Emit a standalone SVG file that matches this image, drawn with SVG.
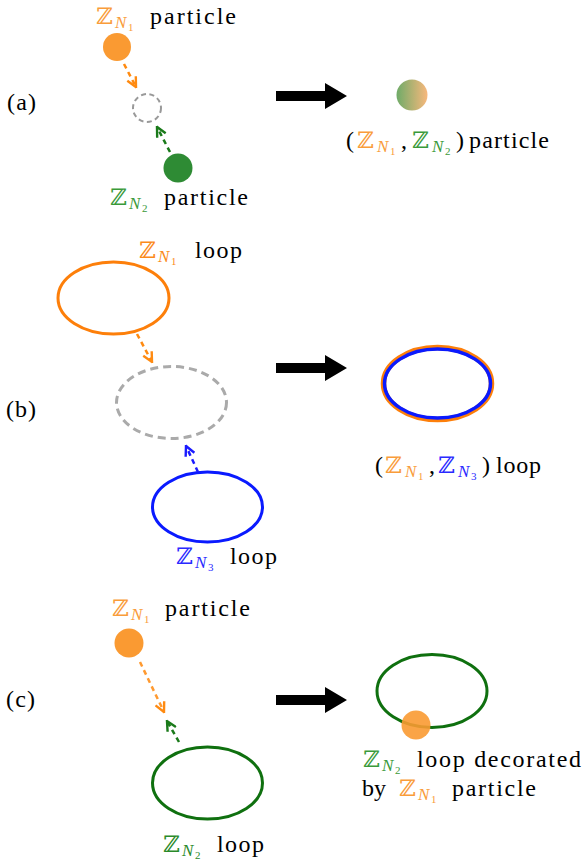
<svg xmlns="http://www.w3.org/2000/svg" width="582" height="863" viewBox="0 0 582 863">
<style>
.t{font-size:24px;fill:#000}
.z{font-size:23px}
.n{font-style:italic;font-size:17px}
.d{font-size:11px}
.or{fill:#f99c3a}
.gr{fill:#3a9a3a}
.bl{fill:#2a2aff}
.dash{fill:none;stroke-width:2.5;stroke-dasharray:5 4}
.big{fill:#000}
</style>
<defs>
<marker id="hO" viewBox="0 0 10 10" refX="9" refY="5" markerWidth="12" markerHeight="12" markerUnits="userSpaceOnUse" orient="auto"><path d="M1 1 L9 5 L1 9" fill="none" stroke="#ff8a10" stroke-width="2"/></marker>
<marker id="hG" viewBox="0 0 10 10" refX="9" refY="5" markerWidth="12" markerHeight="12" markerUnits="userSpaceOnUse" orient="auto"><path d="M1 1 L9 5 L1 9" fill="none" stroke="#1a7a1a" stroke-width="2"/></marker>
<marker id="hB" viewBox="0 0 10 10" refX="9" refY="5" markerWidth="12" markerHeight="12" markerUnits="userSpaceOnUse" orient="auto"><path d="M1 1 L9 5 L1 9" fill="none" stroke="#1a1aff" stroke-width="2"/></marker>
<linearGradient id="mix" x1="0" y1="0" x2="1" y2="0"><stop offset="0" stop-color="#6fab68"/><stop offset="1" stop-color="#f8b87c"/></linearGradient>
</defs>

<g font-family="Liberation Serif, DejaVu Serif, serif">
<g id="panel-labels">
<text class="t" x="7" y="110" textLength="29">(a)</text>
<text class="t" x="6" y="417" textLength="30">(b)</text>
<text class="t" x="6" y="707" textLength="29">(c)</text>
</g>

<!-- Panel (a) -->
<g id="a-particle1">
<circle cx="117" cy="47" r="14" fill="#fa9a32"/>
<text class="z or" x="96" y="24">ℤ</text><text class="n or" x="115" y="28">N</text><text class="d or" x="128" y="31">1</text>
<text class="t" x="150" y="24" textLength="86">particle</text>
</g>
<g id="a-target">
<circle cx="147" cy="108" r="14" fill="none" stroke="#999" stroke-width="2" stroke-dasharray="5 3.5"/>
</g>
<g id="a-particle2">
<circle cx="178" cy="168" r="14.5" fill="#2e8b34"/>
<text class="z gr" x="110" y="205">ℤ</text><text class="n gr" x="129" y="209">N</text><text class="d gr" x="142" y="212">2</text>
<text class="t" x="164" y="205" textLength="84">particle</text>
</g>
<g id="a-result">
<circle cx="412" cy="95" r="15.5" fill="url(#mix)"/>
<text class="t" x="346" y="148">(</text>
<text class="z or" x="357" y="148">ℤ</text><text class="n or" x="377" y="152">N</text><text class="d or" x="390" y="155">1</text>
<text class="t" x="401" y="148">,</text>
<text class="z gr" x="412" y="148">ℤ</text><text class="n gr" x="432" y="152">N</text><text class="d gr" x="445" y="155">2</text>
<text class="t" x="456" y="148">)</text>
<text class="t" x="469" y="148" textLength="80">particle</text>
</g>

<!-- Panel (b) -->
<g id="b-loop1">
<ellipse cx="113.5" cy="298" rx="55.5" ry="36" fill="none" stroke="#fd7f0a" stroke-width="3"/>
<text class="z" x="139" y="258" fill="#fb8a1a">ℤ</text><text class="n" x="158" y="262" fill="#fb8a1a">N</text><text class="d" x="171" y="265" fill="#fb8a1a">1</text>
<text class="t" x="195" y="258" textLength="47">loop</text>
</g>
<g id="b-target">
<ellipse cx="171.5" cy="402.5" rx="55" ry="36" fill="none" stroke="#aaa" stroke-width="3" stroke-dasharray="8 5"/>
</g>
<g id="b-loop3">
<ellipse cx="207.5" cy="507" rx="55" ry="35" fill="none" stroke="#0a1aff" stroke-width="3"/>
<text class="z bl" x="176" y="564">ℤ</text><text class="n bl" x="195" y="568">N</text><text class="d bl" x="208" y="571">3</text>
<text class="t" x="230" y="564" textLength="47">loop</text>
</g>
<g id="b-result">
<ellipse cx="437.5" cy="383.5" rx="54" ry="36" fill="none" stroke="#fd7f0a" stroke-width="5.5"/>
<ellipse cx="437.5" cy="383.5" rx="53" ry="34.5" fill="none" stroke="#0a1aff" stroke-width="3.5"/>
<text class="t" x="375" y="473">(</text>
<text class="z or" x="385" y="473">ℤ</text><text class="n or" x="405" y="477">N</text><text class="d or" x="418" y="480">1</text>
<text class="t" x="429" y="473">,</text>
<text class="z bl" x="438" y="473">ℤ</text><text class="n bl" x="458" y="477">N</text><text class="d bl" x="471" y="480">3</text>
<text class="t" x="482" y="473">)</text>
<text class="t" x="496" y="473" textLength="45">loop</text>
</g>

<!-- Panel (c) -->
<g id="c-particle1">
<circle cx="129" cy="643" r="14.5" fill="#fa9a32"/>
<text class="z or" x="112" y="616">ℤ</text><text class="n or" x="131" y="620">N</text><text class="d or" x="144" y="623">1</text>
<text class="t" x="165" y="616" textLength="85">particle</text>
</g>
<g id="c-loop2">
<ellipse cx="207.5" cy="783" rx="55" ry="36" fill="none" stroke="#0f700f" stroke-width="3"/>
<text class="z" x="163" y="852" fill="#2a8a2a">ℤ</text><text class="n" x="182" y="856" fill="#2a8a2a">N</text><text class="d" x="195" y="859" fill="#2a8a2a">2</text>
<text class="t" x="217" y="852" textLength="47">loop</text>
</g>
<g id="c-result">
<ellipse cx="432" cy="691" rx="55" ry="36.5" fill="none" stroke="#0f700f" stroke-width="3"/>
<circle cx="416" cy="725" r="14.5" fill="#fa9a32" fill-opacity="0.9"/>
<text class="z gr" x="363" y="767">ℤ</text><text class="n gr" x="382" y="771">N</text><text class="d gr" x="395" y="774">2</text>
<text class="t" x="417" y="767" textLength="164">loop decorated</text>
<text class="t" x="362" y="796">by</text>
<text class="z or" x="399" y="796">ℤ</text><text class="n or" x="418" y="800">N</text><text class="d or" x="431" y="803">1</text>
<text class="t" x="452" y="796" textLength="84">particle</text>
</g>
</g>

<g id="connectors">
<line class="dash" x1="124" y1="64" x2="136" y2="87" stroke="#ff8a10" marker-end="url(#hO)"/>
<line class="dash" x1="170" y1="152" x2="157" y2="127" stroke="#1a7a1a" marker-end="url(#hG)"/>
<line class="dash" x1="137" y1="334" x2="152" y2="362" stroke="#ff8a10" marker-end="url(#hO)"/>
<line class="dash" x1="198" y1="472" x2="186" y2="446" stroke="#1a1aff" marker-end="url(#hB)"/>
<line class="dash" x1="140" y1="662" x2="164" y2="712" stroke="#ff9a30" marker-end="url(#hO)"/>
<line class="dash" x1="179" y1="742" x2="167" y2="721" stroke="#1a7a1a" marker-end="url(#hG)"/>
<polygon class="big" points="276,91 325,91 325,83 347,96 325,109 325,101 276,101"/>
<polygon class="big" points="276,363 325,363 325,355 347,368 325,381 325,373 276,373"/>
<polygon class="big" points="276,695 325,695 325,687 347,700 325,713 325,705 276,705"/>
</g>
</svg>
